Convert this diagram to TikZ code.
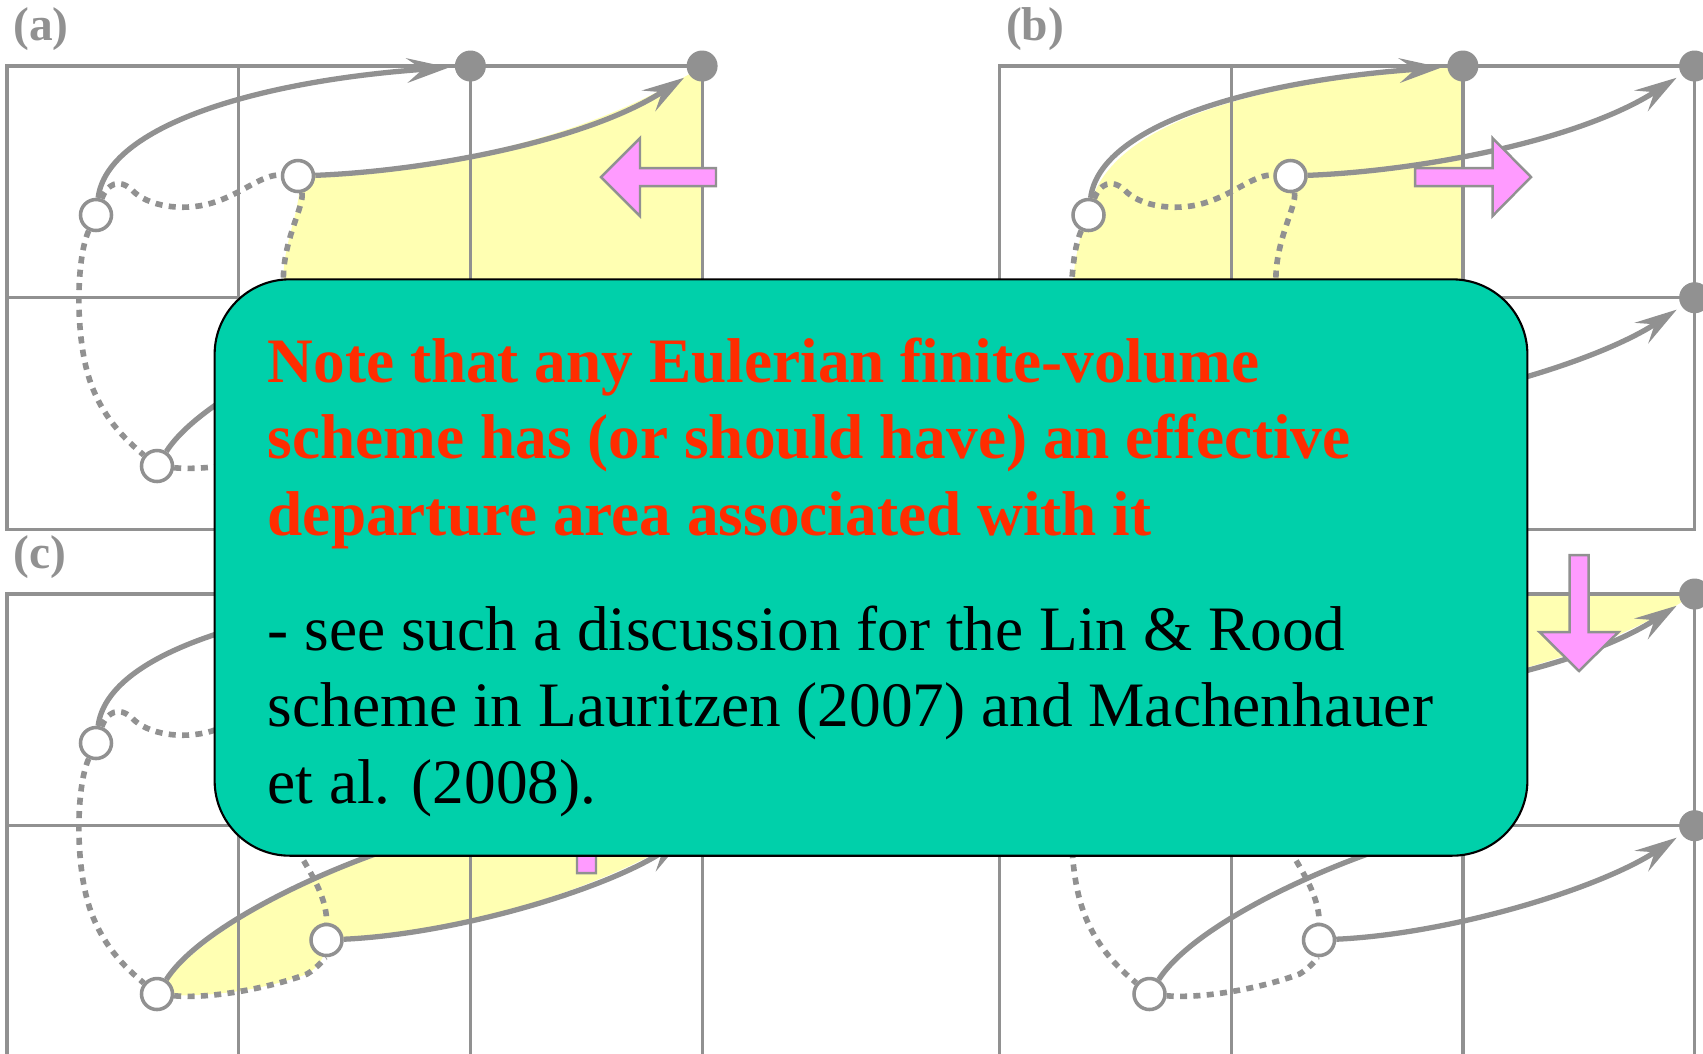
\documentclass[tikz,border=0pt]{standalone}
\usepackage{fontspec}
\setmainfont{Liberation Serif}
\usetikzlibrary{arrows.meta}
\definecolor{gridgray}{RGB}{145,145,145}
\definecolor{fluxyellow}{RGB}{255,255,178}
\definecolor{pushpink}{RGB}{255,155,255}
\definecolor{notegreen}{RGB}{0,208,170}
\definecolor{notered}{RGB}{255,45,0}
\tikzset{
  gridline/.style={draw=gridgray, line width=0.9pt},
  traj/.style={draw=gridgray, line width=1.5pt, -{Stealth[length=12pt,width=7pt,inset=4.5pt]}, shorten >=1.5pt},
  trail/.style={draw=gridgray, line width=1.6pt, dash pattern=on 2pt off 1.8pt},
  arrdot/.style={circle, fill=gridgray, inner sep=0pt, minimum size=0.31cm},
  depdot/.style={circle, draw=gridgray, fill=white, line width=1pt, inner sep=0pt, minimum size=0.31cm},
  fluxarea/.style={fill=fluxyellow},
  push/.style={fill=pushpink, draw=gridgray, line width=0.7pt},
  panellabel/.style={text=gridgray, font=\fontsize{13.5}{15}\selectfont\bfseries, inner sep=0pt},
  notebox/.style={draw=black, fill=notegreen, rounded corners=0.75cm, line width=0.6pt},
  notehead/.style={align=left, inner sep=0pt, anchor=north west, text=notered, font=\fontsize{18}{21.8}\selectfont\bfseries},
  notebody/.style={align=left, inner sep=0pt, anchor=north west, text=black, font=\fontsize{18}{21.8}\selectfont}
}
\begin{document}
\begin{tikzpicture}[x=0.01cm, y=-0.01cm]
\useasboundingbox (0,0) rectangle (1703,1053);

% shaded departure areas
\begin{scope}[shift={(7,66)}]
  \fill[fluxarea] (291,110) .. controls (420,105) and (580,75) .. (695.1,0) -- (695.1,231.7)
    .. controls (600,295) and (450,340) .. (319.5,346)
    .. controls (320,290) and (283,255) .. (277,225)
    .. controls (272,180) and (298,140) .. (291,110) -- cycle;
\end{scope}
\begin{scope}[shift={(999.5,66)}]
  \fill[fluxarea] (89,149) .. controls (100,60) and (250,15) .. (463.4,0) -- (463.4,231.7)
    .. controls (330,268) and (195,330) .. (150,400)
    .. controls (120,375) and (92,350) .. (80,305)
    .. controls (68,260) and (70,190) .. (89,149) -- cycle;
\end{scope}
\begin{scope}[shift={(7,594)}]
  \fill[fluxarea] (150,400) .. controls (195,330) and (330,268) .. (463.4,231.7) -- (695.1,231.7)
    .. controls (600,295) and (450,340) .. (319.5,346)
    .. controls (319,362) and (312,373) .. (300,380)
    .. controls (260,395) and (200,405) .. (150,400) -- cycle;
\end{scope}
\begin{scope}[shift={(999.5,594)}]
  \fill[fluxarea] (89,149) .. controls (100,60) and (250,15) .. (463.4,0) -- (695.1,0)
    .. controls (580,75) and (420,105) .. (291,110)
    .. controls (255,108) and (235,128) .. (205,137)
    .. controls (175,146) and (140,140) .. (125,124)
    .. controls (112,112) and (100,118) .. (89,149) -- cycle;
\end{scope}

% the four panels
\foreach \px/\py/\lab in {7/66/a, 999.5/66/b, 7/594/c, 999.5/594/d} {
  \begin{scope}[shift={(\px,\py)}]
    \draw[gridline] (0,0) rectangle (695.1,463.4);
    \foreach \x in {231.7,463.4} \draw[gridline] (\x,0) -- (\x,463.4);
    \draw[gridline] (0,231.7) -- (695.1,231.7);
    % arrival points
    \node[arrdot] (\lab-a1) at (463.4,0) {};
    \node[arrdot] (\lab-a2) at (695.1,0) {};
    \node[arrdot] (\lab-a3) at (463.4,231.7) {};
    \node[arrdot] (\lab-a4) at (695.1,231.7) {};
    % departure points
    \node[depdot] (\lab-ul) at (89,149) {};
    \node[depdot] (\lab-ur) at (291,110) {};
    \node[depdot] (\lab-ll) at (150,400) {};
    \node[depdot] (\lab-lr) at (319.5,346) {};
    % trajectories
    \draw[traj] (\lab-ul) .. controls (100,60) and (250,15) .. (\lab-a1);
    \draw[traj] (\lab-ur) .. controls (420,105) and (580,75) .. (\lab-a2);
    \draw[traj] (\lab-ll) .. controls (195,330) and (330,268) .. (\lab-a3);
    \draw[traj] (\lab-lr) .. controls (450,340) and (600,295) .. (\lab-a4);
    % departure cell edges
    \draw[trail] (\lab-ul) .. controls (100,118) and (112,112) .. (125,124)
      .. controls (140,140) and (175,146) .. (205,137)
      .. controls (235,128) and (255,108) .. (\lab-ur);
    \draw[trail] (\lab-ul) .. controls (70,190) and (68,260) .. (80,305)
      .. controls (92,350) and (120,375) .. (\lab-ll);
    \draw[trail] (\lab-ur) .. controls (298,140) and (272,180) .. (277,225)
      .. controls (283,255) and (320,290) .. (\lab-lr);
    \draw[trail] (\lab-ll) .. controls (200,405) and (260,395) .. (300,380)
      .. controls (312,373) and (319,362) .. (\lab-lr);
  \end{scope}
}

% face arrows
\draw[push] (716,168) -- (640,168) -- (640,138) -- (601,177) -- (640,216) -- (640,186) -- (716,186) -- cycle;
\draw[push] (1415,168) -- (1492.5,168) -- (1492.5,138) -- (1531,177) -- (1492.5,216) -- (1492.5,186) -- (1415,186) -- cycle;
\draw[push] (577,873) -- (596,873) -- (596,796) -- (626,796) -- (586.5,757) -- (547,796) -- (577,796) -- cycle;
\draw[push] (1569.5,555) -- (1588.5,555) -- (1588.5,632) -- (1618.5,632) -- (1579,671) -- (1539.5,632) -- (1569.5,632) -- cycle;

\node[panellabel] (lab-a) at (41,29) {(a)};
\node[panellabel] (lab-b) at (1035,29) {(b)};
\node[panellabel] (lab-c) at (40,557) {(c)};

% the note
\node[notebox, minimum width=13.12cm, minimum height=5.76cm] (notebox) at (871,567.5) {};
\node[notehead] (note) at (267,337) {Note that any Eulerian finite-volume\\scheme has (or should have) an effective\\departure area associated with it};
\node[notebody] (refs) at (267,605) {- see such a discussion for the Lin \& Rood\\scheme in Lauritzen (2007) and Machenhauer\\et al. (2008).};
\end{tikzpicture}
\end{document}
